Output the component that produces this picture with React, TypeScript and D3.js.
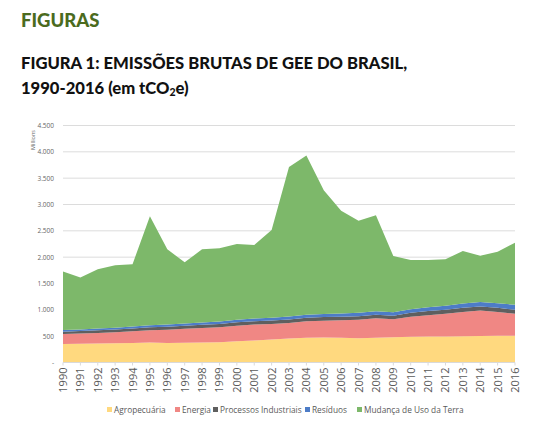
import React from "react";
import * as d3 from "d3";

const years = [1990,1991,1992,1993,1994,1995,1996,1997,1998,1999,2000,2001,2002,2003,2004,2005,2006,2007,2008,2009,2010,2011,2012,2013,2014,2015,2016];
const agropecuaria = [350,355,362,365,372,378,372,375,382,385,405,420,438,455,468,475,470,460,468,478,488,493,495,500,505,508,510];
const energia = [190,195,200,210,220,235,250,265,275,285,295,300,295,295,315,320,330,350,370,345,380,405,430,460,480,450,415];
const processos = [45,46,48,50,52,55,57,58,58,60,62,62,64,66,68,68,70,70,70,63,75,78,78,80,80,80,78];
const residuos = [30,32,34,36,38,40,42,44,46,48,50,52,54,56,58,60,62,64,66,68,70,74,76,80,84,88,92];
const mudancaUso = [1111,985,1127,1184,1184,2071,1428,1161,1388,1390,1438,1397,1663,2839,3023,2347,1947,1746,1824,1069,934,897,881,997,880,979,1181];
const seriesNames = ["Agropecuária","Energia","Processos Industriais","Resíduos","Mudança de Uso da Terra"];
const seriesColors = ["#FFD97F","#F08784","#5F5F5F","#4D7CC7","#7DB86A"];
const yTicks = [0,500,1000,1500,2000,2500,3000,3500,4000,4500];

export default function App() {
  const W = 555, H = 431;
  const x = d3.scalePoint<number>().domain(years).range([63, 515]);
  const y = d3.scaleLinear().domain([0, 4500]).range([362.5, 125.5]);
  const allSeries = [agropecuaria, energia, processos, residuos, mudancaUso];
  const rows = years.map((yr, i) => {
    const r: any = { year: yr };
    seriesNames.forEach((n, k) => (r[n] = allSeries[k][i]));
    return r;
  });
  const stacked = d3.stack<any>().keys(seriesNames)(rows);
  const area = d3
    .area<any>()
    .x((d) => x(d.data.year) as number)
    .y0((d) => y(d[0]))
    .y1((d) => y(d[1]));
  const fmt = (v: number) => (v === 0 ? "-" : d3.format(",")(v).replace(/,/g, "."));
  const font = "'Open Sans', 'Noto Sans', sans-serif";
  const legendX = [107, 175, 213, 305, 357];
  return (
    <div style={{ position: "absolute", left: 0, top: 0 }}>
      <svg width={W} height={H} style={{ display: "block", background: "#fff" }}>
        <text x={21} y={26.5} fontFamily="Lato, sans-serif" fontWeight={900} fontSize={18.5} fill="#4B6B1E">FIGURAS</text>
        <text x={21} y={69} fontFamily="Lato, sans-serif" fontWeight={900} fontSize={16.6} fill="#111">FIGURA 1: EMISSÕES BRUTAS DE GEE DO BRASIL,</text>
        <text x={21} y={94} fontFamily="Lato, sans-serif" fontWeight={900} fontSize={16.6} fill="#111">
          1990-2016 (em tCO<tspan fontSize={10.5} dy={2}>2</tspan><tspan dy={-2}>e)</tspan>
        </text>
        {yTicks.map((t) => (
          <g key={t}>
            {t > 0 && <line x1={63} x2={515} y1={y(t)} y2={y(t)} stroke="#DCDCDC" strokeWidth={1} />}
            <text x={54} y={y(t) + 2.5} textAnchor="end" fontFamily={font} fontSize={6.5} fill="#666">{fmt(t)}</text>
          </g>
        ))}
        <text transform={`translate(35,140) rotate(-90)`} textAnchor="middle" fontFamily={font} fontSize={5.5} fill="#666">Millions</text>
        {stacked.map((s, k) => (
          <path key={s.key} d={area(s) || ""} fill={seriesColors[k]} />
        ))}
        <line x1={63} x2={515} y1={y(0)} y2={y(0)} stroke="#D9D9D9" />
        {years.map((yr) => (
          <g key={yr}>
            <line x1={x(yr)} x2={x(yr)} y1={y(0)} y2={y(0) + 3} stroke="#D9D9D9" />
            <text transform={`translate(${(x(yr) as number) + 4},${y(0) + 5}) rotate(-90)`} textAnchor="end" fontFamily={font} fontSize={11} fill="#595959">{yr}</text>
          </g>
        ))}
        {seriesNames.map((n, k) => (
          <g key={n}>
            <rect x={legendX[k]} y={407} width={5} height={5} fill={seriesColors[k]} />
            <text x={legendX[k] + 7} y={412.5} fontFamily={font} fontSize={8.3} fill="#595959">{n}</text>
          </g>
        ))}
      </svg>
    </div>
  );
}
